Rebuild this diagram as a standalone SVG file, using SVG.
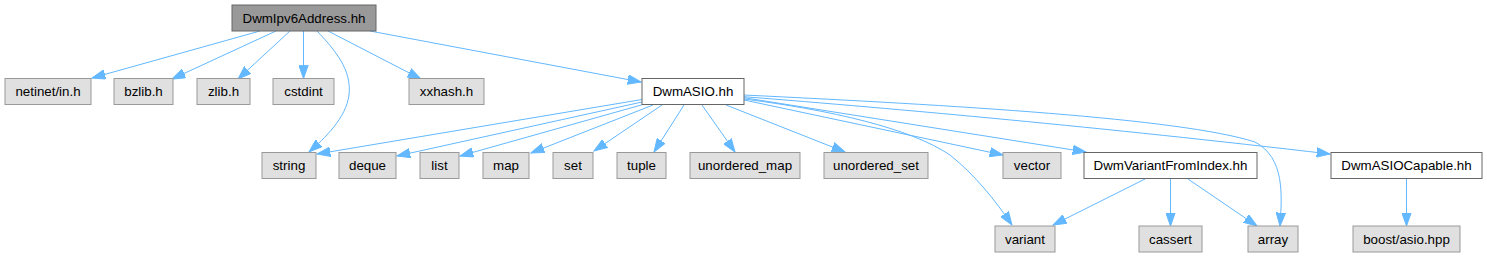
<svg xmlns="http://www.w3.org/2000/svg" width="1487" height="257" viewBox="0 0 1487 257">
<style>
.n rect{stroke-width:1}
.g rect{fill:#e0e0e0;stroke:#999999}
.w rect{fill:#ffffff;stroke:#666666}
.r rect{fill:#999999;stroke:#666666}
text{font-family:"Liberation Sans",Arial,Helvetica,sans-serif;font-size:13.33px;fill:#000000;text-anchor:middle}
#edges path{fill:none;stroke:#63b8ff;stroke-width:1;marker-end:url(#ah)}
</style>
<defs>
<marker id="ah" viewBox="0 0 14 10" refX="13.3" refY="5" markerWidth="14" markerHeight="10" markerUnits="userSpaceOnUse" orient="auto">
<path d="M0,0.3 L13.3,5 L0,9.7 z" fill="#63b8ff" stroke="#63b8ff" stroke-width="1"/>
</marker>
</defs>
<rect width="1487" height="257" fill="#ffffff"/>
<g id="edges">
<path d="M260,31 L92,78"/>
<path d="M276,31 L172,79"/>
<path d="M290,31 L238,79"/>
<path d="M303.5,31 L303.5,78.5"/>
<path d="M317,31 C335,50 352,70 349,95 C346,118 325,138 309,152"/>
<path d="M328,31 L421,79"/>
<path d="M370,31 L641,82"/>
<path d="M642,99.5 L317,154"/>
<path d="M642,102 L397,156"/>
<path d="M643,104.5 L460,156"/>
<path d="M653,105 L531,153"/>
<path d="M662,105 L594,151"/>
<path d="M684,105 L654,152"/>
<path d="M702,105 L735,152"/>
<path d="M726,105 L845,152"/>
<path d="M744,100 L1003,155"/>
<path d="M744,99 C830,110 910,128 950,155 C975,175 995,200 1012,225"/>
<path d="M744,97.7 L1086,152"/>
<path d="M744,95 C950,105 1180,118 1255,142 C1285,158 1282,195 1280,226"/>
<path d="M744,96.7 C900,109 1100,127 1330,154"/>
<path d="M1145,179 L1053,225"/>
<path d="M1170.5,179 L1170.5,226"/>
<path d="M1188,179 L1257,226"/>
<path d="M1406.5,179 L1406.5,226"/>
</g>
<g id="node_root" class="n r"><rect x="232" y="5" width="144" height="26"/><text x="304" y="22.5">DwmIpv6Address.hh</text></g>
<g id="node_netinet" class="n g"><rect x="5" y="78.5" width="86" height="26"/><text x="48" y="96">netinet/in.h</text></g>
<g id="node_bzlib" class="n g"><rect x="114" y="78.5" width="59" height="26"/><text x="143.5" y="96">bzlib.h</text></g>
<g id="node_zlib" class="n g"><rect x="197" y="78.5" width="53" height="26"/><text x="223.5" y="96">zlib.h</text></g>
<g id="node_cstdint" class="n g"><rect x="273" y="78.5" width="61" height="26"/><text x="303.5" y="96">cstdint</text></g>
<g id="node_xxhash" class="n g"><rect x="409" y="78.5" width="75" height="26"/><text x="446.5" y="96">xxhash.h</text></g>
<g id="node_DwmASIO" class="n w"><rect x="642" y="78.5" width="102" height="26"/><text x="693" y="96">DwmASIO.hh</text></g>
<g id="node_string" class="n g"><rect x="262" y="152.5" width="54" height="26"/><text x="289" y="170">string</text></g>
<g id="node_deque" class="n g"><rect x="339" y="152.5" width="57" height="26"/><text x="367.5" y="170">deque</text></g>
<g id="node_list" class="n g"><rect x="420" y="152.5" width="39" height="26"/><text x="439.5" y="170">list</text></g>
<g id="node_map" class="n g"><rect x="483" y="152.5" width="46" height="26"/><text x="506" y="170">map</text></g>
<g id="node_set" class="n g"><rect x="553" y="152.5" width="40" height="26"/><text x="573" y="170">set</text></g>
<g id="node_tuple" class="n g"><rect x="617" y="152.5" width="49" height="26"/><text x="641.5" y="170">tuple</text></g>
<g id="node_unordered_map" class="n g"><rect x="690" y="152.5" width="110" height="26"/><text x="745" y="170">unordered_map</text></g>
<g id="node_unordered_set" class="n g"><rect x="824" y="152.5" width="104" height="26"/><text x="876" y="170">unordered_set</text></g>
<g id="node_vector" class="n g"><rect x="1003" y="152.5" width="58" height="26"/><text x="1032" y="170">vector</text></g>
<g id="node_DwmVariantFromIndex" class="n w"><rect x="1084" y="152.5" width="173" height="26"/><text x="1170.5" y="170">DwmVariantFromIndex.hh</text></g>
<g id="node_DwmASIOCapable" class="n w"><rect x="1331" y="152.5" width="151" height="26"/><text x="1406.5" y="170">DwmASIOCapable.hh</text></g>
<g id="node_variant" class="n g"><rect x="995" y="226" width="60" height="26"/><text x="1025" y="243.5">variant</text></g>
<g id="node_cassert" class="n g"><rect x="1139" y="226" width="63" height="26"/><text x="1170.5" y="243.5">cassert</text></g>
<g id="node_array" class="n g"><rect x="1248" y="226" width="50" height="26"/><text x="1273" y="243.5">array</text></g>
<g id="node_boost_asio" class="n g"><rect x="1353" y="226" width="107" height="26"/><text x="1406.5" y="243.5">boost/asio.hpp</text></g>
</svg>
